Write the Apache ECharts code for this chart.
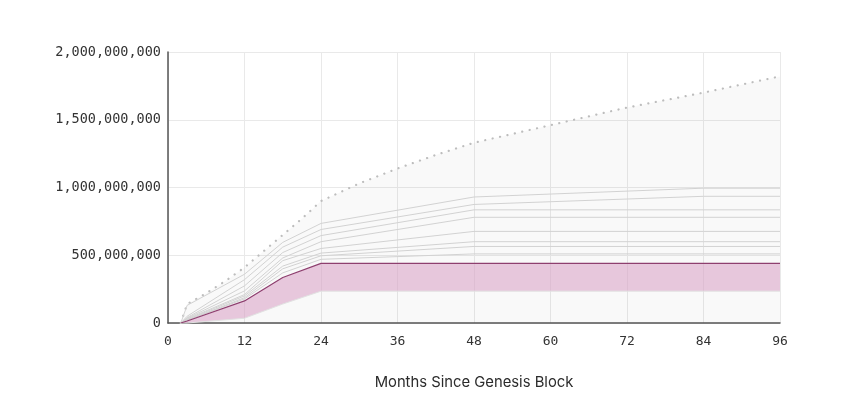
<!DOCTYPE html>
<html>
<head>
<meta charset="utf-8">
<script src="https://cdn.jsdelivr.net/npm/echarts@6/dist/echarts.min.js"></script>
<style>html,body{margin:0;padding:0;background:#fff}#c{width:842px;height:412px}</style>
</head>
<body>
<div id="c"></div>
<script>
// Months since genesis block
const envMonths = [2, 3, 6, 9, 12, 15, 18, 21, 24, 30, 36, 42, 48, 60, 72, 84, 96];
const envValues = [0, 140e6, 220e6, 310e6, 410e6, 530e6, 650e6, 770e6, 900e6, 1030e6, 1140e6, 1240e6, 1330e6, 1460e6, 1590e6, 1700e6, 1820e6];

const lineMonths = [2, 3, 12, 18, 24, 48, 84, 96];
const line1 = [0, 130e6, 360e6, 595e6, 735e6, 930e6, 995e6, 995e6];
const line2 = [0, 50e6, 320e6, 560e6, 690e6, 875e6, 935e6, 935e6];
const line3 = [0, 40e6, 274e6, 520e6, 645e6, 835e6, 835e6, 835e6];
const line4 = [0, 35e6, 237e6, 480e6, 600e6, 780e6, 780e6, 780e6];
const line5 = [0, 30e6, 210e6, 460e6, 550e6, 676e6, 676e6, 676e6];
const line6 = [0, 25e6, 200e6, 420e6, 516e6, 600e6, 600e6, 600e6];
const line7 = [0, 20e6, 187e6, 400e6, 496e6, 565e6, 565e6, 565e6];
const line8 = [0, 20e6, 178e6, 370e6, 470e6, 510e6, 510e6, 510e6];
const bandTop = [0, 15e6, 163e6, 336e6, 440e6, 440e6, 440e6, 440e6];
const bandBottom = [0, 0, 35e6, 140e6, 235e6, 235e6, 235e6, 235e6];

const xTicks = [0, 12, 24, 36, 48, 60, 72, 84, 96];
const yTicks = [0, 500000000, 1000000000, 1500000000, 2000000000];
const xTitle = 'Months Since Genesis Block';

const pair = (xs, ys) => xs.map((x, i) => [x, ys[i]]);
const grayLines = [line1, line2, line3, line4, line5, line6, line7, line8];

const series = [
  {
    type: 'line', name: 'envelope', data: pair(envMonths, envValues), symbol: 'none', z: 1,
    lineStyle: { color: '#bdbdbd', width: 2.2, type: [0.1, 7.5], cap: 'round' },
    areaStyle: { color: 'rgba(0,0,0,0.035)' }
  },
  {
    type: 'custom', name: 'band', z: 2, data: [0],
    renderItem: function (params, api) {
      const up = lineMonths.map((m, i) => api.coord([m, bandTop[i]]));
      const lo = lineMonths.map((m, i) => api.coord([m, bandBottom[i]])).reverse();
      return {
        type: 'group',
        children: [
          { type: 'polygon', shape: { points: up.concat(lo) }, style: { fill: 'rgba(220,168,202,0.62)' } },
          { type: 'polyline', shape: { points: lo }, style: { stroke: '#e2e2e2', lineWidth: 1, fill: null } }
        ]
      };
    }
  }
];
grayLines.forEach((arr, k) => {
  series.push({
    type: 'line', name: 'l' + k, data: pair(lineMonths, arr), symbol: 'none', z: 3,
    lineStyle: { color: '#d2d2d2', width: 1 }
  });
});
series.push({
  type: 'line', name: 'top', data: pair(lineMonths, bandTop), symbol: 'none', z: 4,
  lineStyle: { color: '#8e3f6f', width: 1.2 }
});

const chart = echarts.init(document.getElementById('c'));
chart.setOption({
  animation: false,
  backgroundColor: '#fff',
  grid: { left: 168, right: 62, top: 52, bottom: 89, containLabel: false },
  xAxis: {
    type: 'value', min: 0, max: 96, interval: 12,
    name: xTitle, nameLocation: 'middle', nameGap: 52,
    nameTextStyle: { fontFamily: 'Inter', fontSize: 14.8, color: '#2b2b2b' },
    axisLine: { show: true, lineStyle: { color: '#555', width: 1.5 } },
    axisTick: { show: false },
    axisLabel: {
      fontFamily: 'DejaVu Sans Mono', fontSize: 13, color: '#333', margin: 12,
      formatter: v => xTicks.includes(v) ? String(v) : ''
    },
    splitLine: { show: true, lineStyle: { color: '#e9e9e9', width: 1 } }
  },
  yAxis: {
    type: 'value', min: 0, max: 2000000000, interval: 500000000,
    axisLine: { show: true, lineStyle: { color: '#555', width: 1.5 } },
    axisTick: { show: false },
    axisLabel: {
      fontFamily: 'DejaVu Sans Mono', fontSize: 13.5, color: '#333', margin: 7,
      formatter: v => yTicks.includes(v) ? v.toLocaleString('en-US') : ''
    },
    splitLine: { show: true, lineStyle: { color: '#e9e9e9', width: 1 } }
  },
  series: series
});
</script>
</body>
</html>
